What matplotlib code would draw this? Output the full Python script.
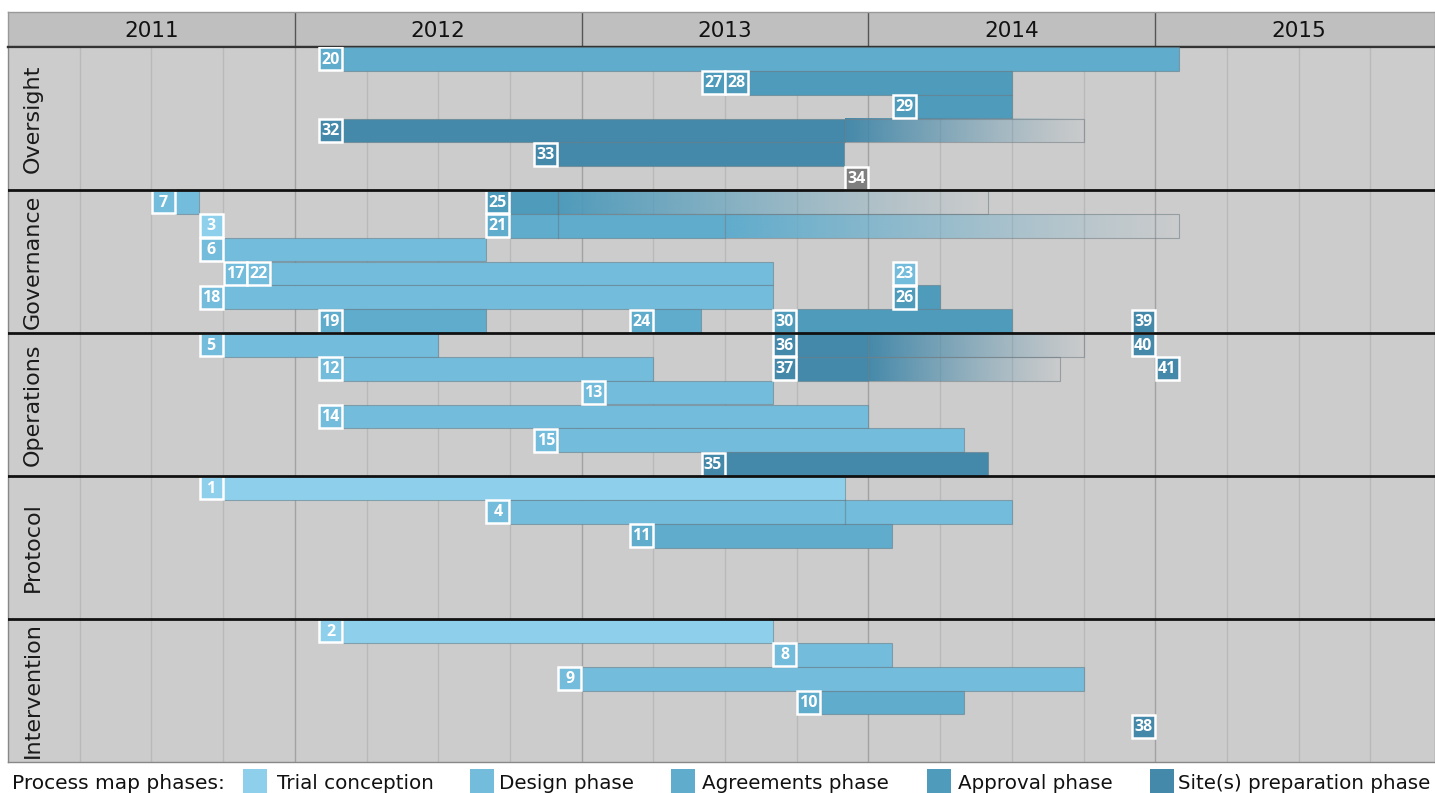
import numpy as np
import matplotlib
matplotlib.use("Agg")
import matplotlib.pyplot as plt
from matplotlib.patches import Rectangle
from matplotlib.colors import to_rgb

# ---------------- data ----------------
years = ["2011", "2012", "2013", "2014", "2015"]
sections = ["Oversight", "Governance", "Operations", "Protocol", "Intervention"]
rows_per_section = 6

phase_names = ["Trial conception", "Design phase", "Agreements phase",
               "Approval phase", "Site(s) preparation phase"]
phase_keys = ["T", "D", "A", "P", "S"]
phase_colors = {"T": "#8ED0EC", "D": "#74BCDB", "A": "#60ACCC",
                "P": "#4F9BBB", "S": "#4589AA", "O": "#7F7F7F"}

task_labels = ["20", "27 28", "29", "32", "33", "34",
               "7", "25", "3", "21", "6", "17 22", "23", "18", "26", "19", "24", "30", "39",
               "5", "36", "40", "12", "37", "41", "13", "14", "15", "35",
               "1", "4", "11",
               "2", "8", "9", "10", "38"]
task_section = [0, 0, 0, 0, 0, 0,
                1, 1, 1, 1, 1, 1, 1, 1, 1, 1, 1, 1, 1,
                2, 2, 2, 2, 2, 2, 2, 2, 2, 2,
                3, 3, 3,
                4, 4, 4, 4, 4]
task_row = [0, 1, 2, 3, 4, 5,
            0, 0, 1, 1, 2, 3, 3, 4, 4, 5, 5, 5, 5,
            0, 0, 0, 1, 1, 1, 2, 3, 4, 5,
            0, 1, 2,
            0, 1, 2, 3, 4]
task_start = ["2012-03", "2013-08", "2014-03", "2012-03", "2012-12", "2014-01",
              "2011-08", "2012-10", "2011-10", "2012-10", "2011-10", "2011-12", "2014-03",
              "2011-10", "2014-03", "2012-03", "2013-04", "2013-10", "2015-01",
              "2011-10", "2013-10", "2015-01", "2012-03", "2013-10", "2015-02", "2013-02",
              "2012-03", "2012-12", "2013-07",
              "2011-10", "2012-10", "2013-04",
              "2012-03", "2013-10", "2013-01", "2013-11", "2015-01"]
task_end = ["2015-02", "2014-07", "2014-07", "2014-10", "2013-12", "2014-01",
            "2011-09", "2014-06", "2011-10", "2015-02", "2012-09", "2013-09", "2014-03",
            "2013-09", "2014-04", "2012-09", "2013-06", "2014-07", "2015-01",
            "2012-07", "2014-10", "2015-01", "2013-04", "2014-09", "2015-02", "2013-09",
            "2014-01", "2014-05", "2014-06",
            "2013-12", "2014-07", "2014-02",
            "2013-09", "2014-02", "2014-10", "2014-05", "2015-01"]
task_phase = ["A", "P", "P", "S", "S", "O",
              "D", "P", "T", "A", "D", "D", "D", "D", "P", "A", "A", "P", "S",
              "D", "S", "S", "D", "S", "S", "D", "D", "D", "S",
              "T", "D", "A",
              "T", "D", "D", "A", "S"]
# month from which the bar fades out (None = solid bar)
task_fade = [None, None, None, "2013-12", None, None,
             None, "2012-12", None, "2013-07", None, None, None, None, None, None, None, None, None,
             None, "2014-01", None, None, "2014-01", None, None, None, None, None,
             None, None, None,
             None, None, None, None, None]
# month where a divider line splits the bar
task_split = [None, None, None, None, None, None,
              None, "2012-12", None, "2012-12", None, None, None, None, None, None, None, None, None,
              None, None, None, None, None, None, None, None, None, None,
              None, "2013-12", None,
              None, None, None, None, None]


def month_index(s):
    y, m = s.split("-")
    return (int(y) - 2011) * 12 + (int(m) - 1)


# ---------------- figure ----------------
W, H = 1435, 793
fig = plt.figure(figsize=(W / 100, H / 100), dpi=100)
fig.patch.set_facecolor("white")

x_left, x_right = 8, 1435
y_head_top, y_head_bot, y_main_bot = 12, 47, 762
px_per_month = 23.9
xmax = (x_right - x_left) / px_per_month

ax_h = fig.add_axes([x_left / W, (H - y_head_bot) / H, (x_right - x_left) / W,
                     (y_head_bot - y_head_top) / H])
ax = fig.add_axes([x_left / W, (H - y_main_bot) / H, (x_right - x_left) / W,
                   (y_main_bot - y_head_bot) / H])

n_rows = len(sections) * rows_per_section

# header
ax_h.set_xlim(0, xmax)
ax_h.set_ylim(0, 1)
ax_h.set_facecolor("#BFBFBF")
for i, yr in enumerate(years):
    ax_h.text(i * 12 + 6, 0.47, yr, ha="center", va="center", fontsize=15.5,
              color="#111111", family="DejaVu Sans")
    if i > 0:
        ax_h.axvline(i * 12, color="#555555", lw=1.0)
ax_h.set_xticks([])
ax_h.set_yticks([])
for s in ["top", "left", "right"]:
    ax_h.spines[s].set_color("#999999")
    ax_h.spines[s].set_linewidth(1.0)
ax_h.spines["bottom"].set_color("#333333")
ax_h.spines["bottom"].set_linewidth(1.6)

# main
ax.set_facecolor("#CCCCCC")
ax.set_xticks([])
ax.set_yticks([])
for s in ["left", "right", "bottom"]:
    ax.spines[s].set_color("#888888")
    ax.spines[s].set_linewidth(1.0)
ax.spines["top"].set_color("#333333")
ax.spines["top"].set_linewidth(1.6)

for q in range(3, 60, 3):
    if q % 12 == 0:
        ax.axvline(q, color="#A2A2A2", lw=1.0, zorder=1)
    else:
        ax.axvline(q, color="#B9B9B9", lw=1.0, zorder=1)

for k in range(1, len(sections)):
    ax.axhline(k * rows_per_section, color="#111111", lw=2.0, zorder=6)

for k, name in enumerate(sections):
    ax.text(1.05, k * rows_per_section + rows_per_section / 2, name, rotation=90,
            ha="center", va="center", fontsize=16, color="#1a1a1a",
            family="DejaVu Sans", zorder=7)

edge_col = (0.38, 0.48, 0.53, 0.55)

for lab, sec, r, st, en, ph, fd, sp in zip(task_labels, task_section, task_row, task_start,
                                          task_end, task_phase, task_fade, task_split):
    y = sec * rows_per_section + r
    s0 = month_index(st)
    e0 = month_index(en)
    col = phase_colors[ph]
    if e0 > s0:
        solid_end = month_index(fd) if fd else e0
        if solid_end > s0:
            ax.add_patch(Rectangle((s0, y), solid_end - s0, 1, facecolor=col,
                                   edgecolor=edge_col, lw=0.8, zorder=3))
        if fd:
            rgb = to_rgb(col)
            n = 256
            img = np.zeros((1, n, 4))
            img[0, :, :3] = rgb
            img[0, :, 3] = np.linspace(1.0, 0.04, n) ** 1.2
            ax.imshow(img, extent=(solid_end, e0, y + 1, y), aspect="auto",
                      interpolation="bilinear", zorder=3)
            ax.add_patch(Rectangle((solid_end, y), e0 - solid_end, 1, facecolor="none",
                                   edgecolor=(0.45, 0.5, 0.53, 0.6), lw=0.8, zorder=3.5))
        if sp:
            xs = month_index(sp)
            ax.plot([xs, xs], [y, y + 1], color=edge_col, lw=0.9, zorder=3.6)
    ids = lab.split()
    for j, t in enumerate(ids):
        bx = s0 - len(ids) + j
        ax.add_patch(Rectangle((bx + 0.02, y + 0.02), 0.96, 0.96, facecolor=col,
                               edgecolor="white", lw=1.8, zorder=5))
        ax.text(bx + 0.5, y + 0.53, t, ha="center", va="center", color="white",
                fontsize=11.5, fontweight="bold", family=["Open Sans", "DejaVu Sans"],
                zorder=6)

ax.set_xlim(0, xmax)
ax.set_ylim(n_rows, 0)

# legend (bottom)
fig.text(12 / W, (H - 789) / H, "Process map phases:", fontsize=14.5, color="#111111",
         va="baseline", ha="left", family="DejaVu Sans")
patch_x = [243, 470, 671, 927, 1150]
text_x = [277, 499, 702, 958, 1178]
for px, tx, key, name in zip(patch_x, text_x, phase_keys, phase_names):
    fig.patches.append(Rectangle((px / W, 0), 24 / W, (H - 769) / H,
                                 transform=fig.transFigure, facecolor=phase_colors[key],
                                 edgecolor="none"))
    fig.text(tx / W, (H - 789) / H, name, fontsize=14.3, color="#111111",
             va="baseline", ha="left", family="DejaVu Sans")

fig.savefig("out.png", dpi=100)
